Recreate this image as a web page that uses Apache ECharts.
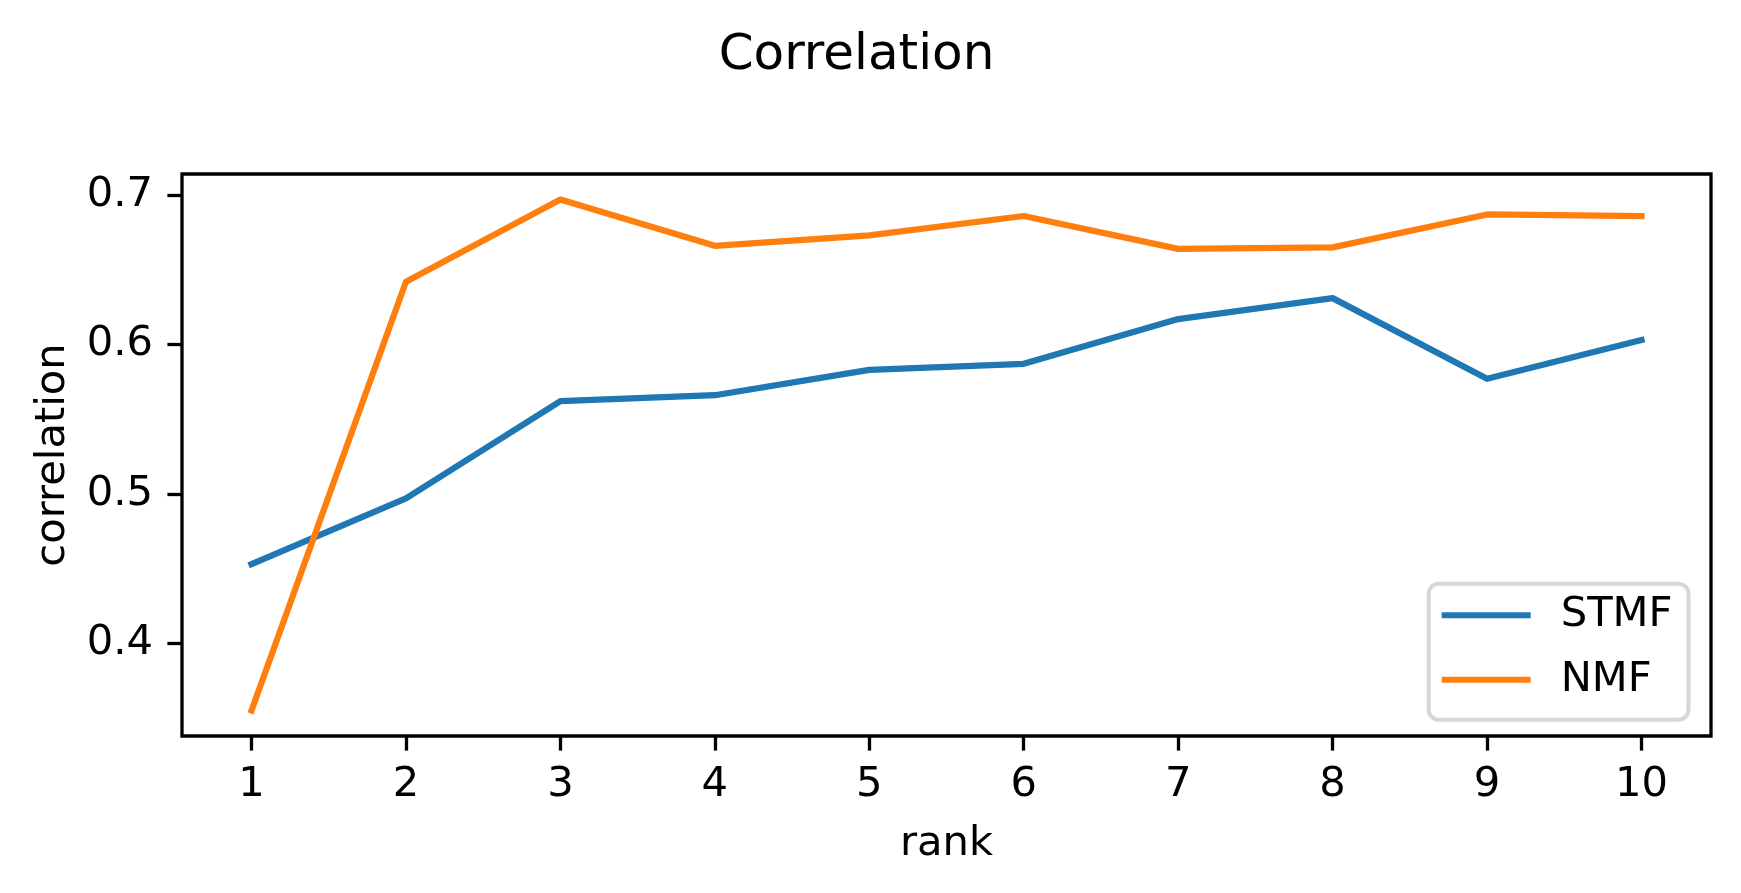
<!DOCTYPE html>
<html>
<head>
<meta charset="utf-8">
<script src="https://cdn.jsdelivr.net/npm/echarts@6/dist/echarts.min.js"></script>
<style>
html,body{margin:0;padding:0;background:#fff;}
#chart{width:1741px;height:893px;}
</style>
</head>
<body>
<div id="chart"></div>
<script>
const ranks = [1, 2, 3, 4, 5, 6, 7, 8, 9, 10];
const stmf = [0.453, 0.497, 0.562, 0.566, 0.583, 0.587, 0.617, 0.631, 0.577, 0.603];
const nmf = [0.355, 0.642, 0.697, 0.666, 0.673, 0.686, 0.664, 0.665, 0.687, 0.686];
const yTicks = [0.4, 0.5, 0.6, 0.7];
const xTicks = [1, 2, 3, 4, 5, 6, 7, 8, 9, 10];

const FONT = 'DejaVu Sans';
const chart = echarts.init(document.getElementById('chart'), null, {renderer: 'canvas'});

function pairs(xs, ys) { return xs.map((x, i) => [x, ys[i]]); }

const lineStyleBase = {width: 6.25, cap: 'square', join: 'round'};

chart.setOption({
  animation: false,
  backgroundColor: '#ffffff',
  textStyle: {fontFamily: FONT},
  title: {
    text: 'Correlation',
    left: 851.5,
    top: 26,
    textAlign: 'center',
    textStyle: {fontFamily: FONT, fontSize: 50, fontWeight: 'normal', color: '#000'}
  },
  grid: {
    left: 182, right: 30, top: 174, bottom: 157,
    show: true, borderColor: '#000', borderWidth: 3.3, backgroundColor: '#fff'
  },
  legend: {
    orient: 'vertical',
    left: 1428.7,
    top: 583.7,
    icon: 'rect',
    itemWidth: 89,
    itemHeight: 6,
    itemGap: 22.5,
    padding: [10.5, 16, 19, 13],
    backgroundColor: 'rgba(255,255,255,0.8)',
    borderColor: '#d6d6d6',
    borderWidth: 4,
    borderRadius: 10,
    textStyle: {fontFamily: FONT, fontSize: 41.67, color: '#000', lineHeight: 42, padding: [0, 0, 0, 25]},
    data: ['STMF', 'NMF']
  },
  xAxis: {
    type: 'value',
    min: 0.55,
    max: 10.45,
    name: 'rank',
    nameLocation: 'middle',
    nameGap: 87,
    nameTextStyle: {fontFamily: FONT, fontSize: 41.67, color: '#000'},
    axisLine: {show: false},
    splitLine: {show: false},
    axisTick: {show: true, length: 14.6, lineStyle: {color: '#000', width: 3.3}, customValues: xTicks},
    axisLabel: {fontFamily: FONT, fontSize: 41.67, color: '#000', margin: 28, customValues: xTicks,
      formatter: v => String(v)}
  },
  yAxis: {
    type: 'value',
    min: 0.3379,
    max: 0.7141,
    name: 'correlation',
    nameLocation: 'middle',
    nameGap: 108,
    nameTextStyle: {fontFamily: FONT, fontSize: 41.67, color: '#000'},
    axisLine: {show: false},
    splitLine: {show: false},
    axisTick: {show: true, length: 14.6, lineStyle: {color: '#000', width: 3.3}, customValues: yTicks},
    axisLabel: {fontFamily: FONT, fontSize: 41.67, color: '#000', margin: 29, customValues: yTicks,
      formatter: v => v.toFixed(1)}
  },
  series: [
    {
      name: 'STMF', type: 'line', data: pairs(ranks, stmf),
      symbol: 'none', showSymbol: false,
      itemStyle: {color: '#1f77b4'},
      lineStyle: Object.assign({color: '#1f77b4'}, lineStyleBase)
    },
    {
      name: 'NMF', type: 'line', data: pairs(ranks, nmf),
      symbol: 'none', showSymbol: false,
      itemStyle: {color: '#ff7f0e'},
      lineStyle: Object.assign({color: '#ff7f0e'}, lineStyleBase)
    }
  ]
});
</script>
</body>
</html>
